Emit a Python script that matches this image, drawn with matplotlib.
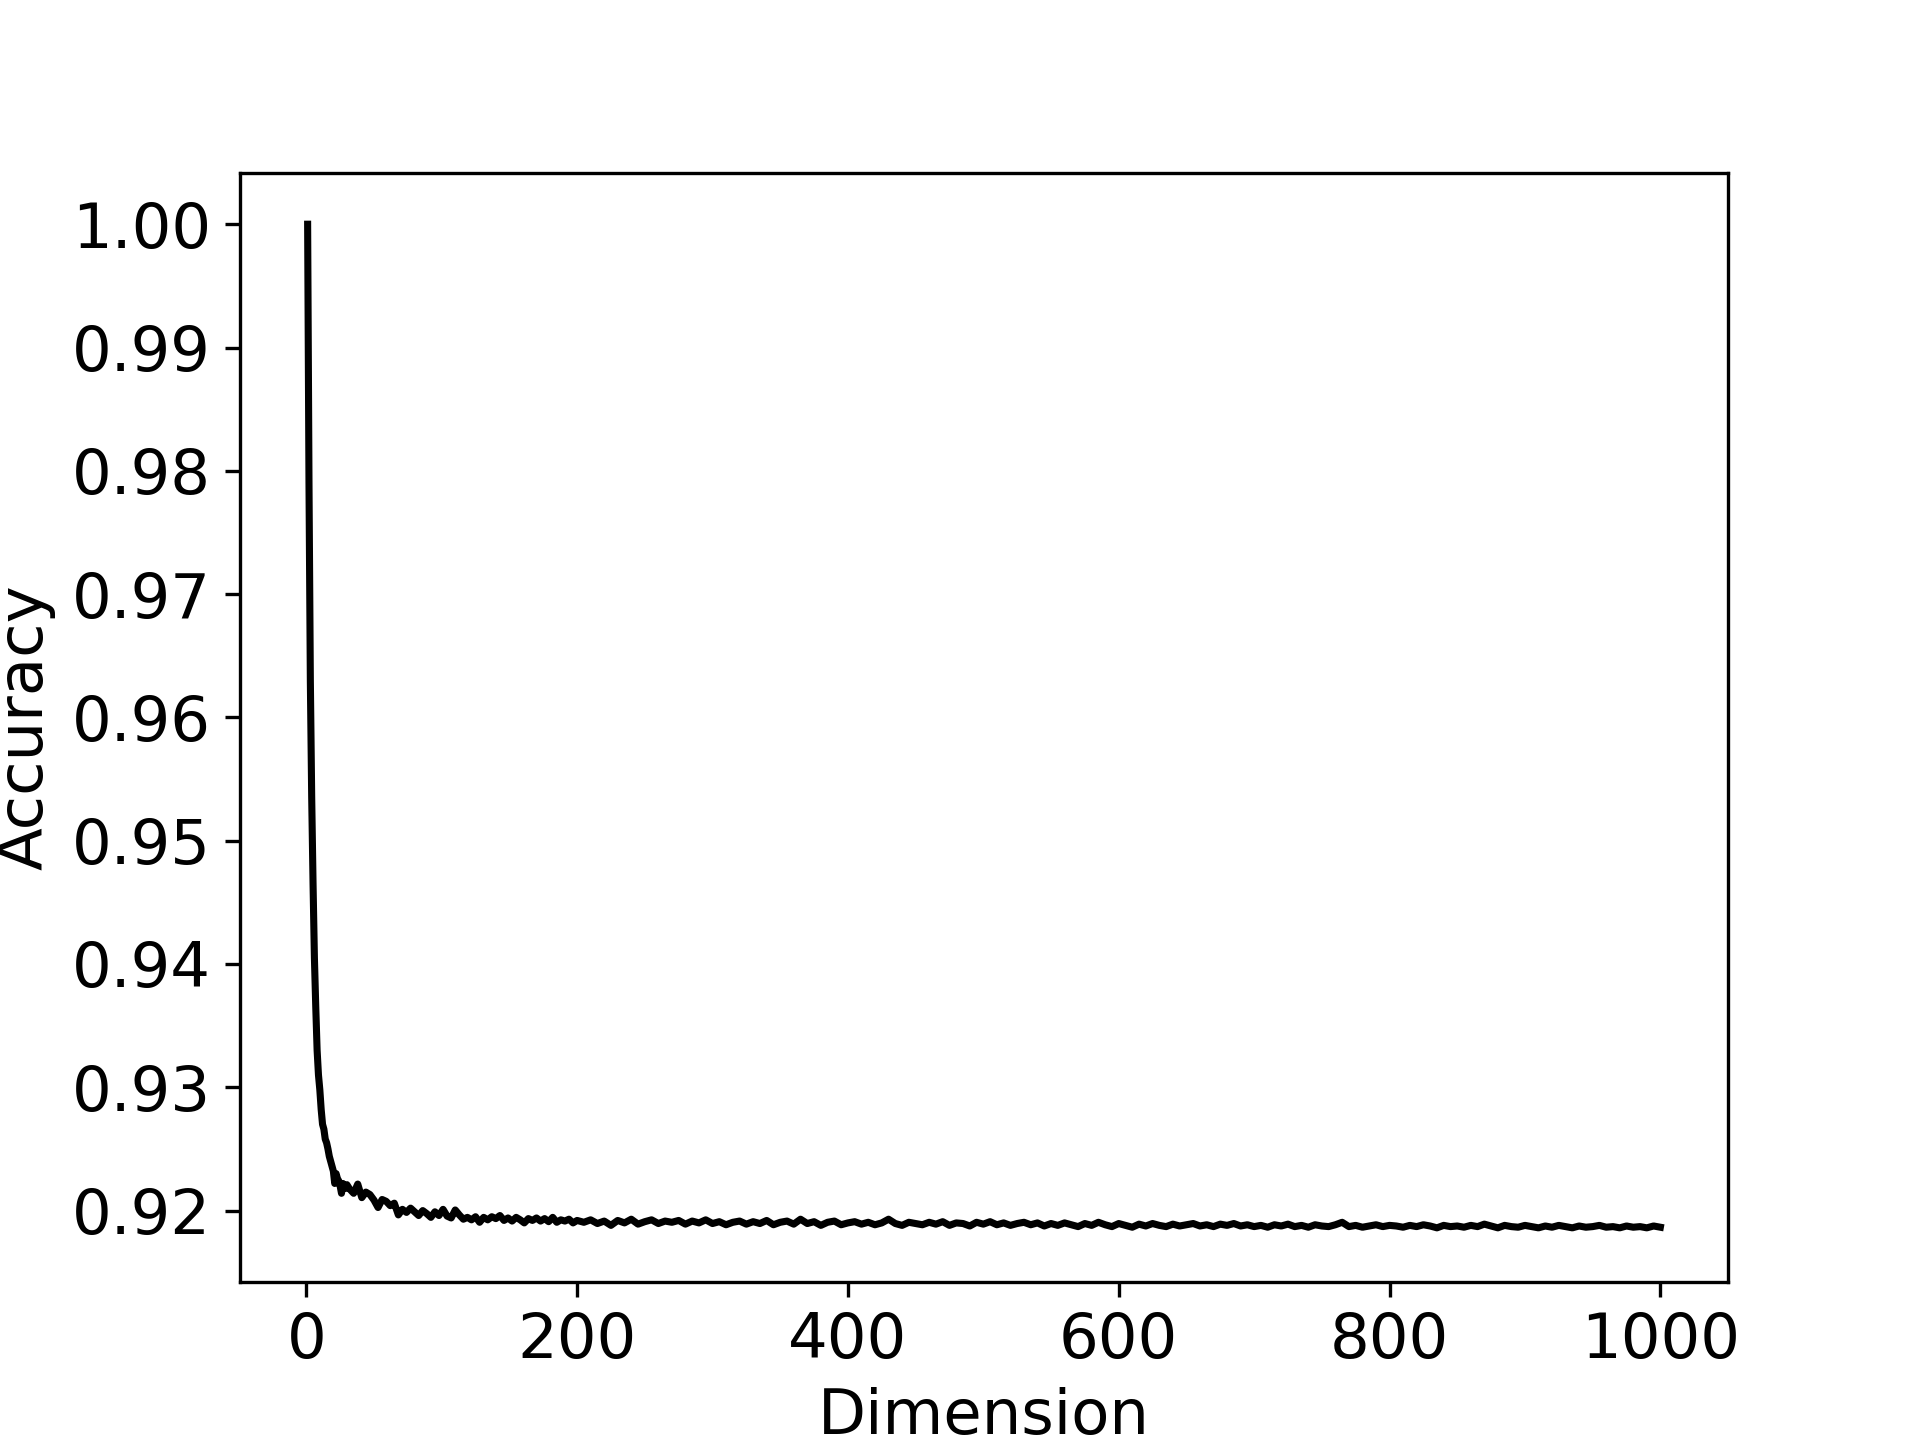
import numpy as np
import matplotlib
matplotlib.use("Agg")
import matplotlib.pyplot as plt

# Segment A: dimensions 1..30
dims_a = list(range(1, 31))
acc_a = [1.0000, 0.9790, 0.9630, 0.9535, 0.9465, 0.9405, 0.9365, 0.9330, 0.9310, 0.9298,
         0.9282, 0.9270, 0.9266, 0.9258, 0.9255, 0.9250, 0.9244, 0.9240, 0.9236, 0.9232,
         0.9222, 0.9230, 0.9226, 0.9224, 0.9220, 0.9214, 0.9222, 0.9220, 0.9218, 0.9221]

# Segment B: dimensions 32..200 (step 3)
dims_b = list(range(32, 201, 3))
acc_b = [0.92175, 0.92140, 0.92215, 0.92105, 0.92150, 0.92130, 0.92085, 0.92025, 0.92090, 0.92075,
         0.92040, 0.92060, 0.91965, 0.92010, 0.91985, 0.92020, 0.91990, 0.91960, 0.92000, 0.91975,
         0.91945, 0.91990, 0.91960, 0.92010, 0.91955, 0.91940, 0.92005, 0.91965, 0.91930, 0.91945,
         0.91925, 0.91950, 0.91905, 0.91945, 0.91925, 0.91950, 0.91935, 0.91960, 0.91920, 0.91940,
         0.91915, 0.91945, 0.91925, 0.91900, 0.91935, 0.91920, 0.91940, 0.91915, 0.91935, 0.91910,
         0.91945, 0.91905, 0.91925, 0.91915, 0.91930, 0.91900, 0.91920]

# Segment C: dimensions 205..1000 (step 5)
dims_c = list(range(205, 1001, 5))
acc_c = [0.91905, 0.91925, 0.91895, 0.91915, 0.91880, 0.91920, 0.91900, 0.91930, 0.91890, 0.91910,
         0.91925, 0.91895, 0.91915, 0.91905, 0.91920, 0.91890, 0.91915, 0.91900, 0.91925, 0.91895,
         0.91910, 0.91885, 0.91905, 0.91915, 0.91890, 0.91910, 0.91895, 0.91920, 0.91885, 0.91905,
         0.91915, 0.91890, 0.91930, 0.91895, 0.91910, 0.91880, 0.91905, 0.91915, 0.91885, 0.91900,
         0.91910, 0.91890, 0.91905, 0.91885, 0.91900, 0.91930, 0.91895, 0.91880, 0.91905, 0.91895,
         0.91885, 0.91905, 0.91890, 0.91910, 0.91880, 0.91900, 0.91895, 0.91875, 0.91905, 0.91890,
         0.91910, 0.91885, 0.91900, 0.91880, 0.91895, 0.91905, 0.91885, 0.91900, 0.91875, 0.91895,
         0.91880, 0.91900, 0.91885, 0.91870, 0.91895, 0.91880, 0.91905, 0.91885, 0.91870, 0.91895,
         0.91880, 0.91865, 0.91890, 0.91875, 0.91895, 0.91880, 0.91870, 0.91890, 0.91875, 0.91885,
         0.91895, 0.91875, 0.91885, 0.91870, 0.91890, 0.91880, 0.91895, 0.91875, 0.91885, 0.91870,
         0.91880, 0.91865, 0.91885, 0.91875, 0.91890, 0.91870, 0.91880, 0.91865, 0.91885, 0.91875,
         0.91870, 0.91885, 0.91905, 0.91870, 0.91880, 0.91865, 0.91875, 0.91885, 0.91870, 0.91880,
         0.91875, 0.91865, 0.91880, 0.91870, 0.91885, 0.91875, 0.91860, 0.91880, 0.91870, 0.91875,
         0.91865, 0.91880, 0.91870, 0.91890, 0.91875, 0.91860, 0.91880, 0.91870, 0.91865, 0.91880,
         0.91870, 0.91860, 0.91875, 0.91865, 0.91880, 0.91870, 0.91860, 0.91875, 0.91865, 0.91870,
         0.91880, 0.91865, 0.91870, 0.91860, 0.91875, 0.91865, 0.91870, 0.91860, 0.91875, 0.91865]

dims = dims_a + dims_b + dims_c
acc = acc_a + acc_b + acc_c

plt.rcParams['font.size'] = 15
fig, ax = plt.subplots(figsize=(6.4, 4.8), dpi=300)
ax.plot(dims, acc, color='black', linewidth=1.7)
ax.set_xlim(-48.95, 1049.95)
ax.set_ylim(0.91424, 1.00417)
ax.set_xticks([0, 200, 400, 600, 800, 1000])
ax.set_yticks([0.92, 0.93, 0.94, 0.95, 0.96, 0.97, 0.98, 0.99, 1.00])
ax.set_xlabel('Dimension')
ax.set_ylabel('Accuracy')
fig.savefig('out.png', dpi=300)
